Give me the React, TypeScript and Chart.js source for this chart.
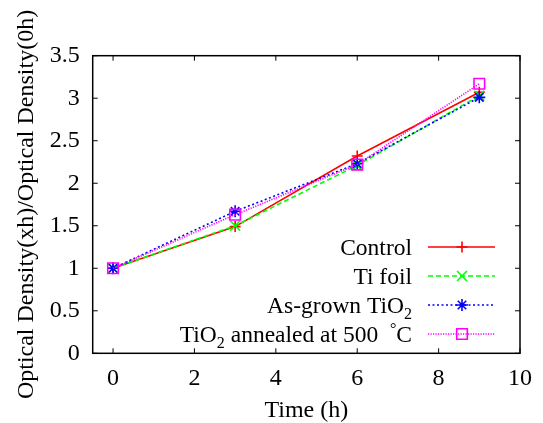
import React, { useEffect, useRef } from 'react';
import { Chart, registerables } from 'chart.js';

Chart.register(...registerables);

// ---- data ----
const times = [0, 3, 6, 9];
const control = [1.0, 1.49, 2.32, 3.07];
const tiFoil = [1.0, 1.5, 2.21, 3.03];
const asGrown = [1.0, 1.67, 2.23, 3.01];
const annealed = [1.0, 1.63, 2.22, 3.17];
const xTickValues = [0, 2, 4, 6, 8, 10];
const yTickValues = [0, 0.5, 1, 1.5, 2, 2.5, 3, 3.5];
const seriesLabels = ['Control', 'Ti foil', 'As-grown TiO_2', 'TiO_2 annealed at 500  ^°C'];
const xTitle = 'Time (h)';
const yTitle = 'Optical Density(xh)/Optical Density(0h)';

const FONT = "'Liberation Serif', 'Times New Roman', Times, serif";

const styles = [
  { color: '#ff0000', dash: [] as number[], point: 'cross', r: 5.5 },
  { color: '#00ff00', dash: [5, 3], point: 'crossRot', r: 7 },
  { color: '#0000ff', dash: [2, 2.5], point: 'star', r: 6 },
  { color: '#ff00ff', dash: [1.2, 1.3], point: 'rect', r: 7.5 },
];

function drawMarker(ctx: CanvasRenderingContext2D, style: string, x: number, y: number, r: number) {
  ctx.beginPath();
  if (style === 'cross' || style === 'star') {
    ctx.moveTo(x - r, y); ctx.lineTo(x + r, y);
    ctx.moveTo(x, y - r); ctx.lineTo(x, y + r);
  }
  if (style === 'crossRot' || style === 'star') {
    const d = r * Math.SQRT1_2;
    ctx.moveTo(x - d, y - d); ctx.lineTo(x + d, y + d);
    ctx.moveTo(x - d, y + d); ctx.lineTo(x + d, y - d);
  }
  if (style === 'rect') {
    const s = r * Math.SQRT1_2;
    ctx.rect(x - s, y - s, 2 * s, 2 * s);
  }
  ctx.stroke();
}

function drawRich(ctx: CanvasRenderingContext2D, text: string, right: number, midY: number) {
  const parts = text.split(/([_^].)/).filter((p) => p.length > 0);
  const big = `23.5px ${FONT}`;
  const small = `16px ${FONT}`;
  const segs = parts.map((p) => {
    if (p[0] === '_' && p.length === 2) return { t: p[1], font: small, dy: 6 };
    if (p[0] === '^' && p.length === 2) return { t: p[1], font: small, dy: -8 };
    return { t: p, font: big, dy: 0 };
  });
  let total = 0;
  segs.forEach((s) => { ctx.font = s.font; total += ctx.measureText(s.t).width; });
  let x = right - total;
  const base = midY + 8;
  ctx.fillStyle = '#000';
  ctx.textAlign = 'left';
  ctx.textBaseline = 'alphabetic';
  segs.forEach((s) => {
    ctx.font = s.font;
    ctx.fillText(s.t, x, base + s.dy);
    x += ctx.measureText(s.t).width;
  });
}

const framePlugin = {
  id: 'gnuFrame',
  afterDatasetsDraw(chart: any) {
    const { ctx, chartArea } = chart;
    const { left, right, top, bottom } = chartArea;
    const xs = chart.scales.x;
    const ys = chart.scales.y;
    ctx.save();
    ctx.strokeStyle = '#000';
    ctx.lineWidth = 1.5;
    ctx.setLineDash([]);
    ctx.strokeRect(left, top, right - left, bottom - top);
    ctx.lineWidth = 1;
    const tl = 5;
    ctx.beginPath();
    xTickValues.forEach((v) => {
      const px = xs.getPixelForValue(v);
      ctx.moveTo(px, bottom); ctx.lineTo(px, bottom - tl);
      ctx.moveTo(px, top); ctx.lineTo(px, top + tl);
    });
    yTickValues.forEach((v) => {
      const py = ys.getPixelForValue(v);
      ctx.moveTo(left, py); ctx.lineTo(left + tl, py);
      ctx.moveTo(right, py); ctx.lineTo(right - tl, py);
    });
    ctx.stroke();
    ctx.restore();
  },
};

const legendPlugin = {
  id: 'gnuLegend',
  afterDraw(chart: any) {
    const { ctx } = chart;
    chart.data.datasets.forEach((ds: any, i: number) => {
      const y = 247 + i * 29;
      ctx.save();
      ctx.strokeStyle = ds.borderColor;
      ctx.lineWidth = ds.borderWidth;
      ctx.setLineDash(ds.borderDash || []);
      ctx.beginPath();
      ctx.moveTo(428, y);
      ctx.lineTo(495, y);
      ctx.stroke();
      ctx.setLineDash([]);
      ctx.lineWidth = ds.pointBorderWidth;
      drawMarker(ctx, ds.pointStyle, 462, y, ds.pointRadius);
      drawRich(ctx, ds.label, 412, y);
      ctx.restore();
    });
  },
};

export default function App() {
  const ref = useRef<HTMLCanvasElement | null>(null);
  useEffect(() => {
    if (!ref.current) return;
    const seriesValues = [control, tiFoil, asGrown, annealed];
    const chart = new Chart(ref.current, {
      type: 'line',
      data: {
        datasets: seriesValues.map((vals, i) => ({
          label: seriesLabels[i],
          data: times.map((t, j) => ({ x: t, y: vals[j] })),
          borderColor: styles[i].color,
          backgroundColor: 'transparent',
          borderWidth: 1.6,
          borderDash: styles[i].dash,
          pointStyle: styles[i].point as any,
          pointRadius: styles[i].r,
          pointBorderColor: styles[i].color,
          pointBackgroundColor: 'transparent',
          pointBorderWidth: 1.6,
          fill: false,
          tension: 0,
          order: 4 - i,
        })),
      },
      options: {
        responsive: false,
        animation: false,
        layout: { padding: { top: 55.7, right: 18, left: 0, bottom: 0 } },
        plugins: { legend: { display: false }, tooltip: { enabled: false } },
        font: { family: FONT },
        scales: {
          x: {
            type: 'linear',
            min: -0.5,
            max: 10,
            grid: { display: false, drawTicks: false },
            border: { display: false },
            afterBuildTicks: (s: any) => { s.ticks = xTickValues.map((v) => ({ value: v })); },
            afterFit: (s: any) => { s.height = 69.7; },
            ticks: { padding: 11, color: '#000', font: { size: 24, family: FONT }, maxRotation: 0, autoSkip: false, callback: (v: any) => String(v) },
            title: { display: true, text: xTitle, color: '#000', font: { size: 24, family: FONT }, padding: { top: -2, bottom: -2 } },
          },
          y: {
            type: 'linear',
            min: 0,
            max: 3.5,
            grid: { display: false, drawTicks: false },
            border: { display: false },
            afterBuildTicks: (s: any) => { s.ticks = yTickValues.map((v) => ({ value: v })); },
            afterFit: (s: any) => { s.width = 92.7; },
            ticks: { padding: 13, color: '#000', font: { size: 24, family: FONT }, autoSkip: false, callback: (v: any) => String(v) },
            title: { display: true, text: yTitle, color: '#000', font: { size: 24, family: FONT }, padding: { top: 12, bottom: 0 } },
          },
        },
      } as any,
      plugins: [framePlugin, legendPlugin],
    });
    return () => chart.destroy();
  }, []);
  return (
    <div style={{ position: 'fixed', left: 0, top: 0, width: 543, height: 423, background: '#fff' }}>
      <canvas ref={ref} width={543} height={423} style={{ display: 'block' }} />
    </div>
  );
}
